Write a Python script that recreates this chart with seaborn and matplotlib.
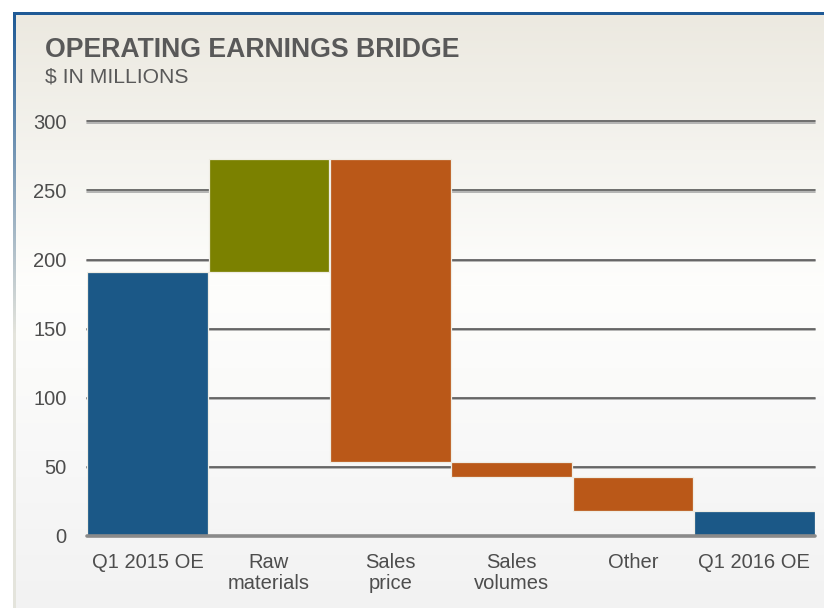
import numpy as np
import pandas as pd
import matplotlib
matplotlib.use("Agg")
import matplotlib.pyplot as plt
import matplotlib.patheffects as pe
import seaborn as sns

# data ($ millions)
categories = ["Q1 2015 OE", "Raw\nmaterials", "Sales\nprice", "Sales\nvolumes", "Other", "Q1 2016 OE"]
start_value = 191.0
changes = [82.0, -219.7, -10.6, -25.0]
end_value = 17.7
bar_kind = ["total", "up", "down", "down", "down", "total"]
y_ticks = [0, 50, 100, 150, 200, 250, 300]

kind_colors = {"total": "#1B5887", "up": "#7B8100", "down": "#BA5818"}
text_col = "#4d4d4d"

sns.set_style("white")
plt.rcParams["font.family"] = ["Liberation Sans", "DejaVu Sans"]

# waterfall steps -> floating bars
levels = np.concatenate([[start_value], start_value + np.cumsum(changes)])
bottoms = [0.0]
heights = [start_value]
for i, d in enumerate(changes):
    bottoms.append(min(levels[i], levels[i + 1]))
    heights.append(abs(d))
bottoms.append(0.0)
heights.append(end_value)
df = pd.DataFrame({"step": categories, "height": heights, "bottom": bottoms, "kind": bar_kind})

W, H = 824, 608
fig = plt.figure(figsize=(W / 100, H / 100), dpi=100)

# panel background: beige -> white -> light gray, with blue frame top/left
ys = np.arange(H)
stops_y = [13, 150, 285, 450, 607]
stops_c = np.array([[236, 233, 224], [244, 243, 238], [254, 254, 252], [248, 248, 248], [242, 242, 242]]) / 255
grad = np.stack([np.interp(ys, stops_y, stops_c[:, k]) for k in range(3)], axis=1)
bg = np.ones((H, W, 3))
bg[13:, 14:, :] = grad[13:, None, :]
blue = np.array([31, 90, 150]) / 255
pale = np.array([228, 228, 220]) / 255
t = np.clip((ys - 13) / 320.0, 0, 1)[:, None]
left = blue * (1 - t) + pale * t
bg[12:, 13:16, :] = left[12:, None, :]
bg[12:15, 13:, :] = blue
bg_ax = fig.add_axes([0, 0, 1, 1], zorder=-10)
bg_ax.imshow(bg, aspect="auto", interpolation="nearest")
bg_ax.axis("off")

ax = fig.add_axes([87 / W, 1 - 535.5 / H, (815 - 87) / W, (535.5 - 121.5) / H])
ax.set_facecolor("none")

sns.barplot(data=df, x="step", y="height", bottom=df["bottom"].values, width=0.995,
            color=kind_colors["total"], edgecolor="#EFEDE4", linewidth=0.9,
            errorbar=None, ax=ax, zorder=3)
for patch, kind in zip(ax.patches, df["kind"]):
    patch.set_facecolor(kind_colors[kind])

shadow = [pe.SimpleLineShadow(offset=(0, -1), shadow_color="#a8a8a8", alpha=1), pe.Normal()]
for yv in y_ticks[1:]:
    ax.axhline(yv, color="#575757", lw=1.2, zorder=1, clip_on=False, path_effects=shadow)
ax.axhline(0, color="#8a8a8a", lw=2.6, zorder=4, clip_on=False)

ax.set_xlim(-0.5, 5.5)
ax.set_ylim(0, 300)
ax.set_yticks(y_ticks)
ax.set_xlabel("")
ax.set_ylabel("")
sns.despine(ax=ax, left=True, bottom=True)
ax.tick_params(axis="y", length=0, pad=14.5, labelsize=14.5, labelcolor=text_col)
ax.tick_params(axis="x", length=0, pad=12.5, labelsize=14.5, labelcolor=text_col)
for lab in ax.get_xticklabels():
    lab.set_linespacing(1.15)

fig.text(45 / W, 1 - 57 / H, "OPERATING EARNINGS BRIDGE", fontsize=19.2, fontweight="bold",
         color="#595959", va="baseline", ha="left")
fig.text(45 / W, 1 - 83 / H, "$ IN MILLIONS", fontsize=15.2, color="#595959",
         va="baseline", ha="left")

fig.savefig("out.png", dpi=100)
